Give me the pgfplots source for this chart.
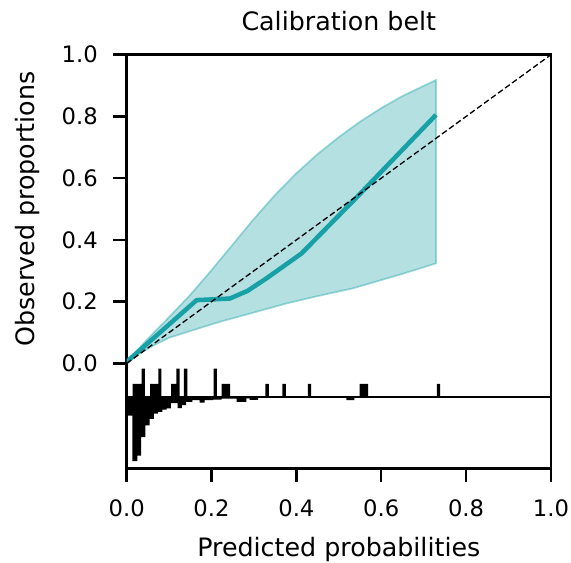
\documentclass[border=0pt]{standalone}
\usepackage{fontspec}
\setmainfont{DejaVu Sans}
\usepackage{pgfplots}
\pgfplotsset{compat=1.18}
\definecolor{belt}{RGB}{23,160,166}

\begin{document}
\begin{tikzpicture}
\begin{axis}[
  scale only axis,
  width=318.2pt, height=310.2pt,
  xmin=0, xmax=1, ymin=-0.34, ymax=1,
  xtick={0,0.2,0.4,0.6,0.8,1.0},
  ytick={0,0.2,0.4,0.6,0.8,1.0},
  tick pos=left,
  tick align=outside,
  major tick length=10pt,
  major tick style={black, line width=1.9pt},
  axis line style={black, line width=1.9pt},
  tick label style={font=\fontsize{17}{20}\selectfont},
  xticklabel style={anchor=north, inner sep=0pt},
  yticklabel style={anchor=east, inner sep=0pt},
  xticklabel shift=13pt,
  yticklabel shift=11.5pt,
  title={Calibration belt},
  every axis title/.style={font=\fontsize{19}{23}\selectfont, at={(axis description cs:0.5,1.0574)}, anchor=base, inner sep=0pt},
  xlabel={Predicted probabilities},
  xlabel style={font=\fontsize{19}{23}\selectfont, at={(axis description cs:0.5,-0.2121)}, anchor=base, inner sep=0pt},
  ylabel={Observed proportions},
  ylabel style={font=\fontsize{19}{23}\selectfont, at={(axis description cs:-0.2184,0.627)}, rotate=0, anchor=base, inner sep=0pt},
  /pgf/number format/fixed,
  /pgf/number format/fixed zerofill,
  /pgf/number format/precision=1,
  /pgf/number format/assume math mode=true,
]
\coordinate (O) at (rel axis cs:0,0);

% confidence belt: upper edge left to right, lower edge back
\addplot[fill=belt, fill opacity=0.32, draw=belt, draw opacity=0.4, line width=1.3pt] coordinates {
  (0,0) (0.02,0.035) (0.05,0.08) (0.1,0.15) (0.15,0.222) (0.2,0.302) (0.25,0.385)
  (0.3,0.468) (0.35,0.546) (0.4,0.616) (0.45,0.678) (0.5,0.733) (0.55,0.783)
  (0.6,0.827) (0.65,0.866) (0.7,0.899) (0.729,0.918)
  (0.729,0.324) (0.65,0.29) (0.6,0.27) (0.533,0.243) (0.45,0.218) (0.376,0.194)
  (0.3,0.165) (0.22,0.135) (0.15,0.105) (0.1,0.083) (0.063,0.058) (0.03,0.032) (0,0)
};

% fitted curve
\addplot[belt, line width=3.4pt, line join=round] coordinates {
  (0,0.005) (0.165,0.205) (0.243,0.21) (0.285,0.235) (0.329,0.275)
  (0.412,0.356) (0.54,0.535) (0.729,0.805)
};

% bisector
\addplot[black, line width=1pt, dash pattern=on 4.3pt off 2.2pt] coordinates {(0,0) (1,1)};

% histogram, events above the base line
\addplot[const plot, fill=black, draw=none] coordinates {
  (0,-0.109) (0.0141,-0.066) (0.0353,-0.017) (0.043,-0.109) (0.055,-0.066)
  (0.0745,-0.017) (0.082,-0.109) (0.105,-0.066) (0.117,-0.017) (0.125,-0.109)
  (0.135,-0.017) (0.143,-0.109) (0.205,-0.017) (0.2125,-0.109) (0.224,-0.066)
  (0.244,-0.109) (0.327,-0.066) (0.335,-0.109) (0.367,-0.066) (0.375,-0.109)
  (0.427,-0.066) (0.435,-0.109) (0.549,-0.066) (0.569,-0.109) (0.731,-0.066)
  (0.739,-0.109)
};

% histogram, non-events below the base line
\addplot[const plot, fill=black, draw=none] coordinates {
  (0,-0.109) (0,-0.169) (0.0135,-0.317) (0.0255,-0.299) (0.034,-0.239)
  (0.044,-0.201) (0.054,-0.180) (0.064,-0.163) (0.074,-0.157) (0.084,-0.150)
  (0.094,-0.146) (0.104,-0.129) (0.120,-0.145) (0.130,-0.135) (0.140,-0.125)
  (0.155,-0.119) (0.172,-0.127) (0.184,-0.119) (0.204,-0.117) (0.224,-0.114)
  (0.259,-0.125) (0.282,-0.113) (0.29,-0.118) (0.31,-0.112) (0.34,-0.111)
  (0.40,-0.110) (0.518,-0.119) (0.537,-0.110) (0.6,-0.110) (0.74,-0.109)
};

\addplot[black, line width=1pt] coordinates {(0,-0.109) (1,-0.109)};
\end{axis}
\pgfresetboundingbox
\path[use as bounding box] (O) ++(-95pt,-71pt) rectangle ++(428.25pt,422.25pt);
\end{tikzpicture}
\end{document}
